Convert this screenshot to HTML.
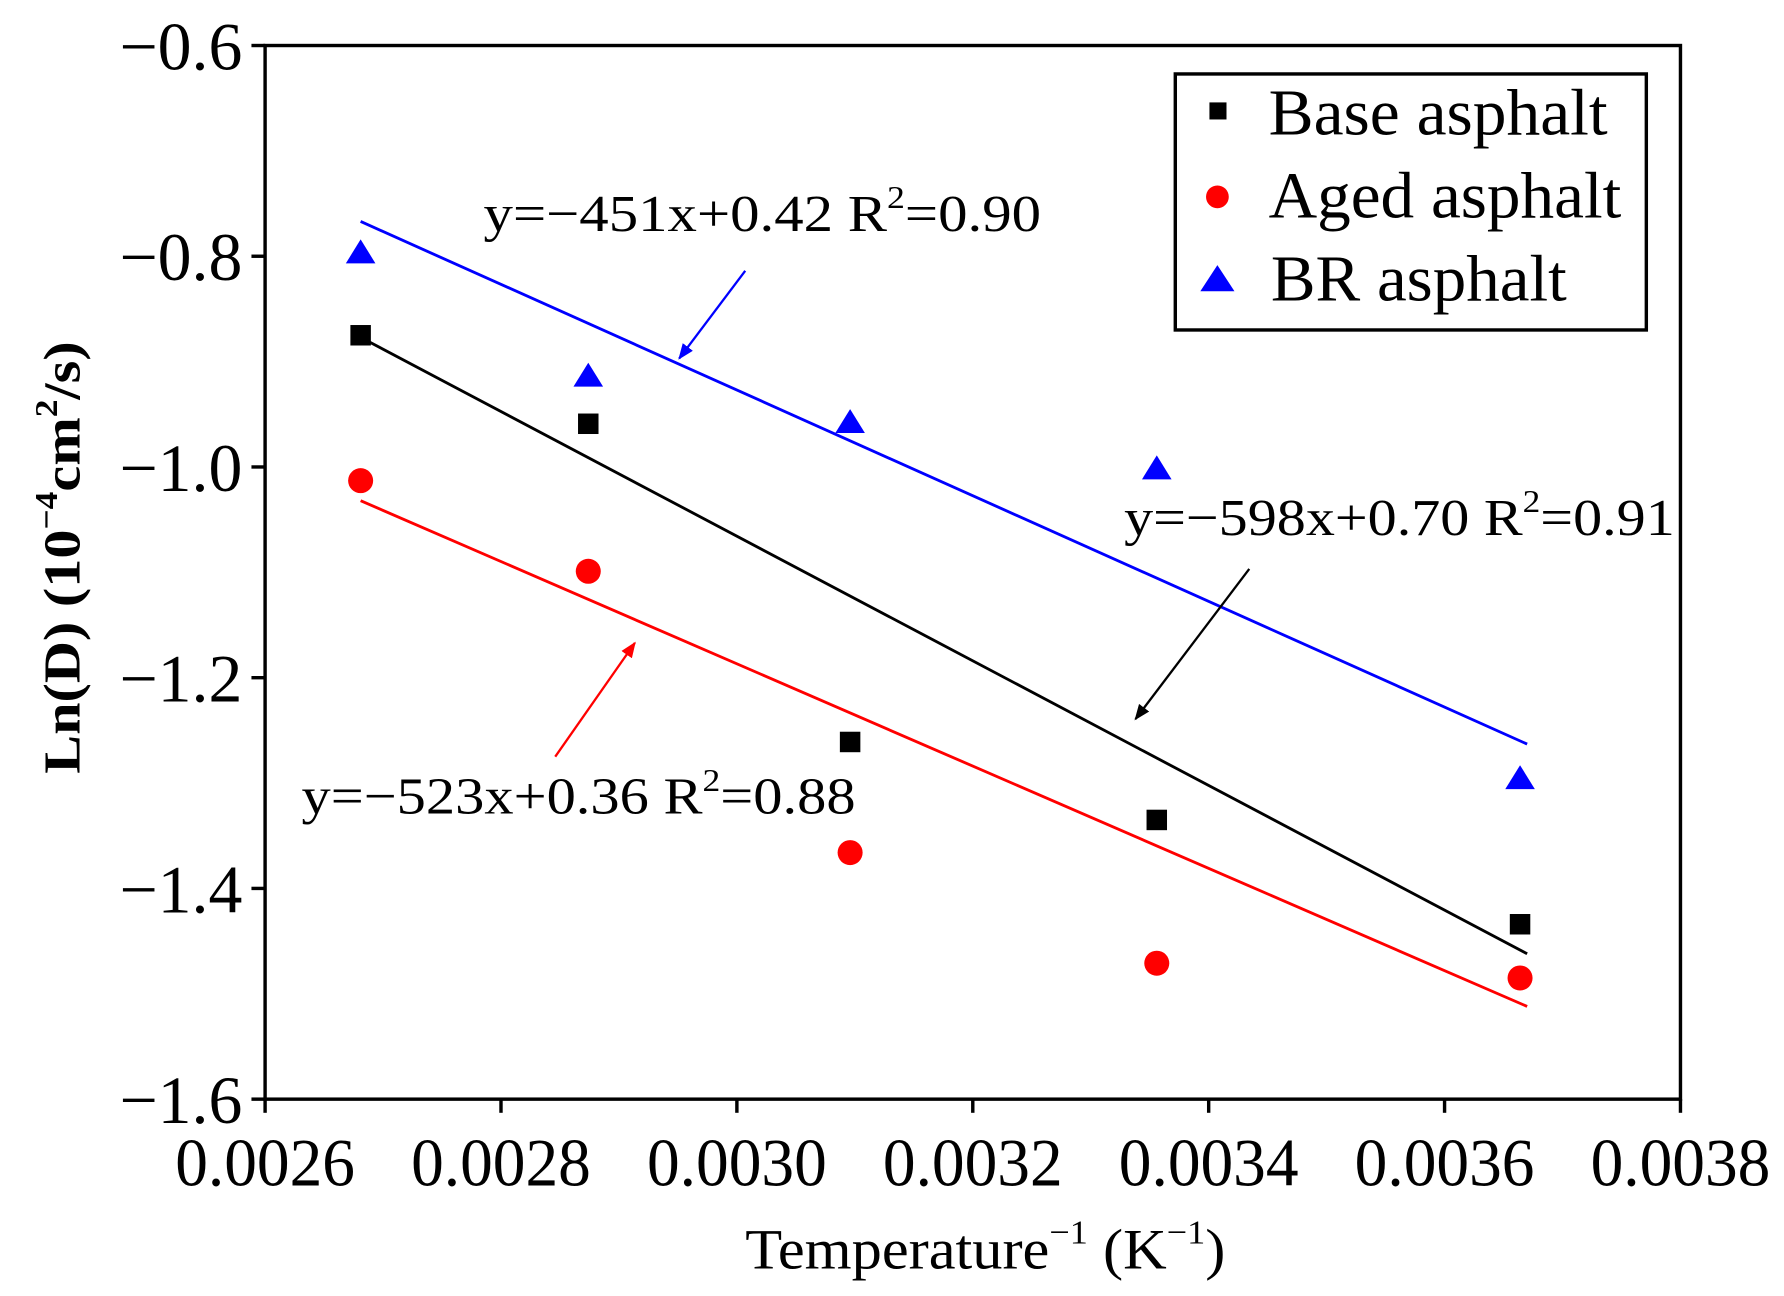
<!DOCTYPE html>
<html><head><meta charset="utf-8"><style>
html,body{margin:0;padding:0;background:#fff;}
svg{display:block;font-family:"Liberation Serif",serif;}
</style></head><body>
<svg id="chart" width="1784" height="1296" viewBox="0 0 1568 1139" preserveAspectRatio="none" xmlns="http://www.w3.org/2000/svg">
<g id="axes"></g>
<g id="fits"></g>
<g id="marks"></g>
<g>
  <text x="425" y="203" font-size="46" textLength="490" lengthAdjust="spacingAndGlyphs">y=−451x+0.42 R<tspan font-size="28" dy="-20">2</tspan><tspan dy="20">=0.90</tspan></text>
  <text x="988" y="470" font-size="46" textLength="484" lengthAdjust="spacingAndGlyphs">y=−598x+0.70 R<tspan font-size="28" dy="-20">2</tspan><tspan dy="20">=0.91</tspan></text>
  <text x="265" y="715" font-size="46" textLength="487" lengthAdjust="spacingAndGlyphs">y=−523x+0.36 R<tspan font-size="28" dy="-20">2</tspan><tspan dy="20">=0.88</tspan></text>
  <defs>
    <marker id="ab" viewBox="0 0 10 10" refX="9" refY="5" markerWidth="7" markerHeight="7" orient="auto"><path d="M0,1 L10,5 L0,9 z" fill="#0000ff"/></marker>
    <marker id="ak" viewBox="0 0 10 10" refX="9" refY="5" markerWidth="7" markerHeight="7" orient="auto"><path d="M0,1 L10,5 L0,9 z" fill="#000"/></marker>
    <marker id="ar" viewBox="0 0 10 10" refX="9" refY="5" markerWidth="7" markerHeight="7" orient="auto"><path d="M0,1 L10,5 L0,9 z" fill="#ff0000"/></marker>
  </defs>
  <line x1="655" y1="238" x2="597" y2="315" stroke="#0000ff" stroke-width="2" marker-end="url(#ab)"/>
  <line x1="1098" y1="500" x2="998" y2="632" stroke="#000" stroke-width="2" marker-end="url(#ak)"/>
  <line x1="488" y1="665" x2="558" y2="565" stroke="#ff0000" stroke-width="2" marker-end="url(#ar)"/>
</g>
<g>
  <rect x="1033" y="65" width="414" height="225" fill="#fff" stroke="#000" stroke-width="3"/>
  <rect x="1063" y="90" width="15" height="15" fill="#000"/>
  <text x="1115" y="118" font-size="58" textLength="298" lengthAdjust="spacingAndGlyphs">Base asphalt</text>
  <circle cx="1070" cy="173" r="10" fill="#ff0000"/>
  <text x="1115" y="191" font-size="58" textLength="310" lengthAdjust="spacingAndGlyphs">Aged asphalt</text>
  <polygon points="1070,233 1085,256 1055,256" fill="#0000ff"/>
  <text x="1117" y="264" font-size="58" textLength="260" lengthAdjust="spacingAndGlyphs">BR asphalt</text>
</g>
<text transform="translate(70,490) rotate(-90)" text-anchor="middle" font-size="46" font-weight="bold" textLength="380" lengthAdjust="spacingAndGlyphs">Ln(D) (10<tspan font-size="28" dy="-20">−4</tspan><tspan dy="20">cm</tspan><tspan font-size="28" dy="-20">2</tspan><tspan dy="20">/s)</tspan></text>
<text x="655" y="1115" font-size="50" textLength="422" lengthAdjust="spacingAndGlyphs">Temperature<tspan font-size="30" dy="-22">−1</tspan><tspan dy="22"> (K</tspan><tspan font-size="30" dy="-22">−1</tspan><tspan dy="22">)</tspan></text>
</svg>
<script>
const xTicks = [0.0026, 0.0028, 0.0030, 0.0032, 0.0034, 0.0036, 0.0038];
const xTickLabels = ["0.0026","0.0028","0.0030","0.0032","0.0034","0.0036","0.0038"];
const yTicks = [-0.6, -0.8, -1.0, -1.2, -1.4, -1.6];
const yTickLabels = ["−0.6","−0.8","−1.0","−1.2","−1.4","−1.6"];
const xValues = [0.002681, 0.002874, 0.003096, 0.003356, 0.003664];
const baseValues = [-0.875, -0.959, -1.261, -1.335, -1.434];
const agedValues = [-1.013, -1.099, -1.366, -1.471, -1.485];
const brValues = [-0.797, -0.914, -0.958, -1.002, -1.296];
const fitX = [0.002681, 0.003670];
const baseFit = [-0.877, -1.462];
const agedFit = [-1.032, -1.512];
const brFit = [-0.767, -1.263];

const L=233,R=1477,T=40,B=966;
const sx=v=>L+(v-0.0026)/(0.0038-0.0026)*(R-L);
const sy=v=>T+(-0.6-v)/(1.0)*(B-T);
const NS='http://www.w3.org/2000/svg';
function mk(tag,attrs,parent){const e=document.createElementNS(NS,tag);for(const k in attrs)e.setAttribute(k,attrs[k]);parent.appendChild(e);return e;}
const axes=document.getElementById('axes');
const frame=mk('rect',{x:L,y:T,width:R-L,height:B-T,fill:'none',stroke:'#000','stroke-width':3},axes);


xTicks.forEach((v,i)=>{
  const t=mk('line',{x1:sx(v),x2:sx(v),y1:B,y2:B+12,stroke:'#000','stroke-width':3},axes);
  
  
  const l=mk('text',{x:sx(v),y:B+76,'text-anchor':'middle','font-size':60,textLength:158,lengthAdjust:'spacingAndGlyphs'},axes);
  l.textContent=xTickLabels[i];
  
  
});
yTicks.forEach((v,i)=>{
  const t=mk('line',{x1:L-12,x2:L,y1:sy(v),y2:sy(v),stroke:'#000','stroke-width':3},axes);
  
  
  const l=mk('text',{x:L-20,y:sy(v)+21,'text-anchor':'end','font-size':60,textLength:108,lengthAdjust:'spacingAndGlyphs'},axes);
  l.textContent=yTickLabels[i];
  
  
});
const fits=document.getElementById('fits');
[[brFit,'#0000ff','br-fit-line'],[baseFit,'#000','base-fit-line'],[agedFit,'#ff0000','aged-fit-line']].forEach(([f,c,n])=>{
  const ln=mk('line',{x1:sx(fitX[0]),y1:sy(f[0]),x2:sx(fitX[1]),y2:sy(f[1]),stroke:c,'stroke-width':2.5},fits);
  
  
});
const marks=document.getElementById('marks');
xValues.forEach((x,i)=>{
  const px=sx(x);
  const s=mk('rect',{x:px-9,y:sy(baseValues[i])-9,width:18,height:18,fill:'#000'},marks);
  
  
  const c=mk('circle',{cx:px,cy:sy(agedValues[i]),r:11,fill:'#ff0000'},marks);
  
  
  const y=sy(brValues[i]);
  const tr=mk('polygon',{points:`${px},${y-12} ${px+13},${y+9} ${px-13},${y+9}`,fill:'#0000ff'},marks);
  
  
});
</script>
</body></html>
